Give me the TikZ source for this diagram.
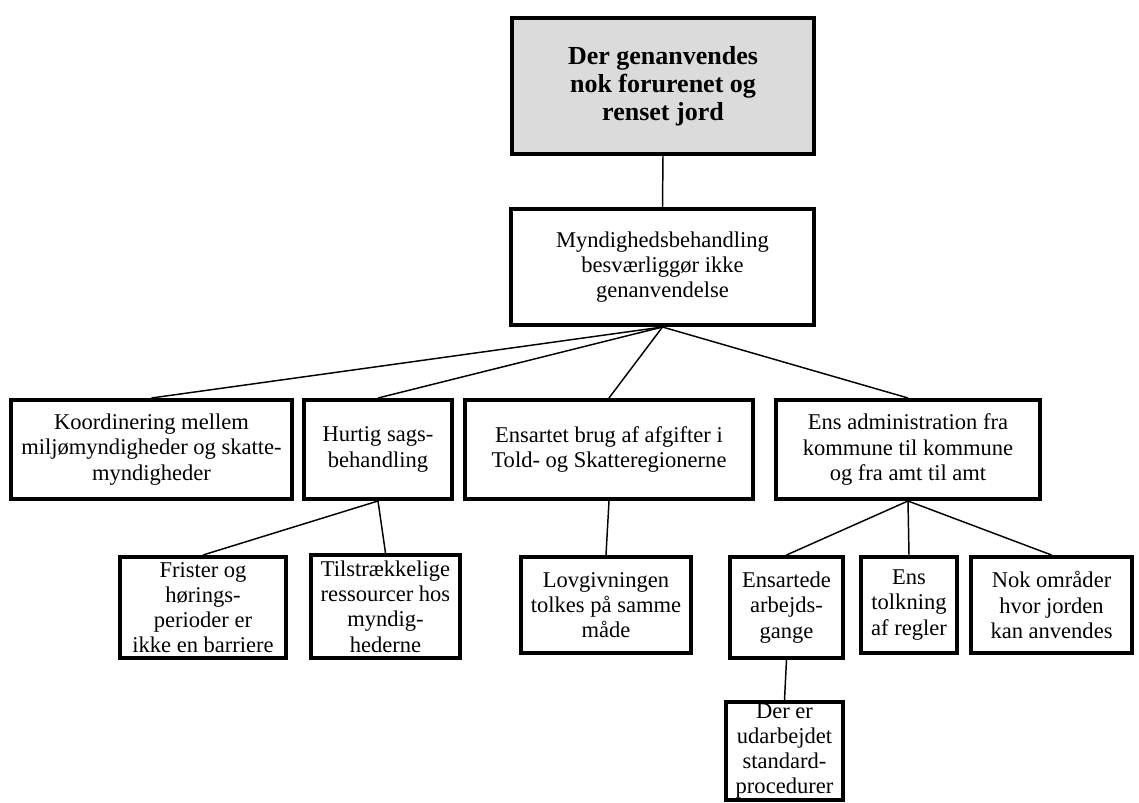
\documentclass[tikz,border=0pt]{standalone}
\usepackage{fontspec}
\setmainfont{Liberation Serif}
\begin{document}
\begin{tikzpicture}[x=0.75pt,y=-0.75pt,
  box/.style={draw=black,line width=3pt,fill=white,align=center,inner sep=0pt,
    font=\fontsize{16.9}{18.9}\selectfont},
  topbox/.style={box,fill=black!14,font=\fontsize{19.5}{21}\selectfont\bfseries},
  link/.style={draw=black,line width=1.1pt}]
\useasboundingbox (0,0) rectangle (1139,803);
% helper: node name, x1,y1,x2,y2
\newcommand\mkbox[7][box]{%
  \node[#1,minimum width={(#4-#2-4)*0.75pt},minimum height={(#5-#3-4)*0.75pt}]
    (#6) at ({(#2+#4)/2},{(#3+#5)/2}) {#7};}
\mkbox[topbox]{510}{16}{816}{156}{top}{Der genanvendes\\nok forurenet og\\renset jord}
\mkbox{509}{207}{816}{327}{mynd}{Myndighedsbehandling\\besværliggør ikke\\genanvendelse}
\mkbox{9}{398}{294}{501}{koord}{Koordinering mellem\\miljømyndigheder og skatte-\\myndigheder}
\mkbox{302}{398}{454}{501}{hurtig}{Hurtig sags-\\behandling}
\mkbox{463}{398}{755}{501}{ensbrug}{Ensartet brug af afgifter i\\Told- og Skatteregionerne}
\mkbox{774}{398}{1042}{501}{ensadm}{Ens administration fra\\kommune til kommune\\og fra amt til amt}
\mkbox{118}{555}{288}{660}{frister}{Frister og\\hørings-\\perioder er\\ikke en barriere}
\mkbox{309}{553}{462}{660}{tilstr}{Tilstrækkelige\\ressourcer hos\\myndig-\\hederne}
\mkbox{519}{555}{693}{655}{lov}{Lovgivningen\\tolkes på samme\\måde}
\mkbox{728}{555}{845}{660}{ensart}{Ensartede\\arbejds-\\gange}
\mkbox{859}{555}{959}{655}{enstolk}{Ens\\tolkning\\af regler}
\mkbox{969}{555}{1134}{655}{nok}{Nok områder\\hvor jorden\\kan anvendes}
\mkbox{724}{700}{845}{802}{derer}{Der er\\udarbejdet\\standard-\\procedurer}
\draw[link] (top.south) -- (mynd.north);
\draw[link] (mynd.south) -- (koord.north);
\draw[link] (mynd.south) -- (hurtig.north);
\draw[link] (mynd.south) -- (ensbrug.north);
\draw[link] (mynd.south) -- (ensadm.north);
\draw[link] (hurtig.south) -- (frister.north);
\draw[link] (hurtig.south) -- (tilstr.north);
\draw[link] (ensbrug.south) -- (lov.north);
\draw[link] (ensadm.south) -- (ensart.north);
\draw[link] (ensadm.south) -- (enstolk.north);
\draw[link] (ensadm.south) -- (nok.north);
\draw[link] (ensart.south) -- (derer.north);
\end{tikzpicture}
\end{document}
